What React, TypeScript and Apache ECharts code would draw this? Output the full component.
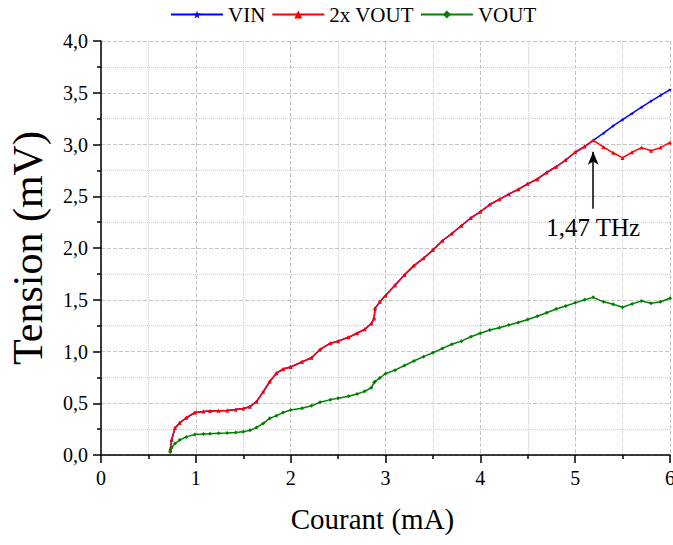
import React, { useEffect, useRef } from "react";
import * as echarts from "echarts";

const currents = [0.73, 0.745, 0.78, 0.83, 0.9, 0.99, 1.08, 1.15, 1.24, 1.33, 1.42, 1.5, 1.57, 1.64, 1.71, 1.78, 1.85, 1.92, 2.0, 2.12, 2.22, 2.31, 2.42, 2.5, 2.61, 2.7, 2.78, 2.85, 2.88, 2.89, 2.94, 3.0, 3.1, 3.2, 3.3, 3.4, 3.5, 3.6, 3.7, 3.8, 3.9, 4.0, 4.1, 4.2, 4.3, 4.4, 4.5, 4.6, 4.7, 4.8, 4.9, 5.0, 5.1, 5.19, 5.3, 5.4, 5.5, 5.6, 5.7, 5.8, 5.9, 6.0];

const vin = [0.05, 0.145, 0.26, 0.31, 0.36, 0.41, 0.42, 0.425, 0.428, 0.43, 0.44, 0.45, 0.467, 0.515, 0.61, 0.71, 0.79, 0.83, 0.85, 0.9, 0.94, 1.02, 1.08, 1.1, 1.137, 1.176, 1.214, 1.27, 1.32, 1.417, 1.48, 1.54, 1.64, 1.74, 1.83, 1.9, 1.98, 2.07, 2.14, 2.215, 2.29, 2.35, 2.42, 2.47, 2.52, 2.567, 2.62, 2.665, 2.73, 2.785, 2.85, 2.925, 2.98, 3.04, 3.11, 3.18, 3.24, 3.3, 3.36, 3.42, 3.475, 3.53];

const vout2x = [0.05, 0.145, 0.26, 0.31, 0.36, 0.41, 0.42, 0.425, 0.428, 0.43, 0.44, 0.45, 0.467, 0.515, 0.61, 0.71, 0.79, 0.83, 0.85, 0.9, 0.94, 1.02, 1.08, 1.1, 1.137, 1.176, 1.214, 1.27, 1.32, 1.417, 1.48, 1.54, 1.64, 1.74, 1.83, 1.9, 1.98, 2.07, 2.14, 2.215, 2.29, 2.35, 2.42, 2.47, 2.52, 2.567, 2.62, 2.665, 2.73, 2.785, 2.85, 2.925, 2.98, 3.04, 2.975, 2.92, 2.87, 2.925, 2.97, 2.94, 2.97, 3.02];

const vout = [0.03, 0.07, 0.11, 0.145, 0.175, 0.198, 0.203, 0.206, 0.21, 0.213, 0.218, 0.225, 0.238, 0.265, 0.305, 0.354, 0.38, 0.41, 0.435, 0.452, 0.475, 0.51, 0.535, 0.548, 0.567, 0.59, 0.615, 0.65, 0.7, 0.71, 0.745, 0.785, 0.82, 0.865, 0.908, 0.95, 0.988, 1.03, 1.07, 1.1, 1.143, 1.176, 1.208, 1.23, 1.256, 1.28, 1.31, 1.34, 1.375, 1.41, 1.44, 1.47, 1.5, 1.523, 1.48, 1.456, 1.427, 1.46, 1.488, 1.466, 1.48, 1.514];

const seriesNames = ["VIN", "2x VOUT", "VOUT"];
const annotationX = 5.19;
const annotationFrom = 2.38;
const annotationTo = 2.93;
const annotationText = "1,47 THz";

const FONT = "'Liberation Serif', 'Times New Roman', serif";
const STAR = "path://M50,0 L61,35 L98,35 L68,57 L79,91 L50,70 L21,91 L32,57 L2,35 L39,35 Z";

const pairs = (ys: number[]) => currents.map((x, i) => [x, ys[i]]);
const comma = (v: number, d: number) => v.toFixed(d).replace(".", ",");

export default function App() {
  const ref = useRef<HTMLDivElement>(null);
  useEffect(() => {
    if (!ref.current) return;
    const chart = echarts.init(ref.current, undefined, { renderer: "svg" });
    const axisCommon = {
      type: "value" as const,
      axisLine: { show: true, onZero: false, lineStyle: { color: "#000", width: 1.5 } },
      axisTick: { show: true, inside: false, length: 8, lineStyle: { color: "#000", width: 1.5 } },
      minorTick: { show: true, splitNumber: 2, length: 4, lineStyle: { color: "#000", width: 1.5 } },
      splitLine: { show: true, lineStyle: { color: "#c4c4c4", type: "dashed", width: 1 } },
      minorSplitLine: { show: true, lineStyle: { color: "#cccccc", type: "dotted", width: 1 } },
      nameLocation: "middle" as const,
    };
    chart.setOption({
      animation: false,
      backgroundColor: "#fff",
      textStyle: { fontFamily: FONT },
      legend: {
        top: 4,
        left: 170,
        padding: 0,
        itemWidth: 52,
        itemHeight: 10,
        itemGap: 6,
        textStyle: { fontFamily: FONT, fontSize: 21, color: "#000" },
        data: seriesNames,
      },
      grid: { left: 101, right: 3, top: 41, bottom: 90, outerBoundsMode: "none", containLabel: false },
      xAxis: {
        ...axisCommon,
        min: 0,
        max: 6,
        interval: 1,
        name: "Courant (mA)",
        nameGap: 49,
        nameTextStyle: { fontFamily: FONT, fontSize: 29, color: "#000", padding: [0, 26, 0, 0] },
        axisLabel: { fontFamily: FONT, fontSize: 20, color: "#000", margin: 13, formatter: (v: number) => comma(v, 0) },
      },
      yAxis: {
        ...axisCommon,
        min: 0,
        max: 4,
        interval: 0.5,
        name: "Tension (mV)",
        nameGap: 52,
        nameTextStyle: { fontFamily: FONT, fontSize: 42, color: "#000" },
        axisLabel: { fontFamily: FONT, fontSize: 20, color: "#000", margin: 13, formatter: (v: number) => comma(v, 1) },
      },
      series: [
        {
          name: seriesNames[0],
          type: "line",
          data: pairs(vin),
          color: "#0000ff",
          symbol: STAR,
          symbolSize: 4,
          showSymbol: true,
          lineStyle: { width: 1.5, color: "#0000ff" },
          z: 2,
        },
        {
          name: seriesNames[1],
          type: "line",
          data: pairs(vout2x),
          color: "#ff0000",
          symbol: "triangle",
          symbolSize: 4,
          lineStyle: { width: 1.5, color: "#ff0000" },
          z: 3,
          markLine: {
            silent: true,
            symbol: ["none", "arrow"],
            symbolSize: [8, 13],
            lineStyle: { color: "#000", width: 1.5, type: "solid" },
            label: {
              show: true,
              position: "start",
              formatter: annotationText,
              fontFamily: FONT,
              fontSize: 25,
              color: "#000",
              distance: 6,
            },
            data: [[{ coord: [annotationX, annotationFrom] }, { coord: [annotationX, annotationTo] }]],
          },
        },
        {
          name: seriesNames[2],
          type: "line",
          data: pairs(vout),
          color: "#008000",
          symbol: "diamond",
          symbolSize: 4,
          lineStyle: { width: 1.5, color: "#008000" },
          z: 3,
        },
      ],
    });
    return () => chart.dispose();
  }, []);
  return <div ref={ref} style={{ width: 673, height: 545, position: "fixed", left: 0, top: 0 }} />;
}
